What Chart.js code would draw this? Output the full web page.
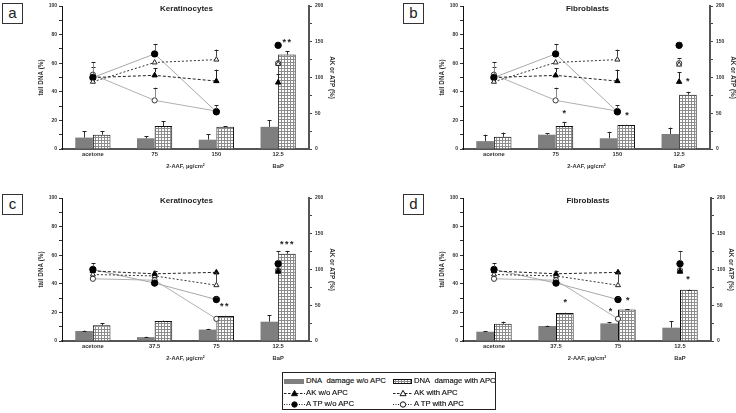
<!DOCTYPE html>
<html><head><meta charset="utf-8">
<script src="https://cdn.jsdelivr.net/npm/chart.js@4.4.1/dist/chart.umd.min.js"></script>
<style>
html,body{margin:0;padding:0;background:#fff;}
body{width:736px;height:413px;overflow:hidden;position:relative;font-family:"Liberation Sans",Arial,sans-serif;}
canvas.pc{position:absolute;}
.lab{position:absolute;width:19px;height:19px;border:1px solid #333;font-size:15px;line-height:18px;text-align:center;color:#222;}
#legend{position:absolute;left:282px;top:372px;width:212px;height:36px;border:1.5px solid #222;}
.li{position:absolute;height:10px;font:7.7px "Liberation Sans",Arial,sans-serif;color:#111;white-space:nowrap;line-height:10px;-webkit-text-stroke:0.15px #111;}
.li canvas{vertical-align:top;margin-right:1px;}
</style></head>
<body>
<canvas id="pa" class="pc" width="310" height="170" style="left:30px;top:0px"></canvas>
<canvas id="pb" class="pc" width="310" height="170" style="left:431px;top:0px"></canvas>
<canvas id="pcc" class="pc" width="310" height="170" style="left:30px;top:192px"></canvas>
<canvas id="pd" class="pc" width="308" height="170" style="left:431px;top:192px"></canvas>
<div class="lab" style="left:2px;top:3px">a</div>
<div class="lab" style="left:403px;top:3px">b</div>
<div class="lab" style="left:2px;top:194px">c</div>
<div class="lab" style="left:403px;top:194px">d</div>
<div id="legend">
  <div class="li" style="left:1px;top:3px"><canvas id="ic1" width="21" height="10"></canvas>DNA&nbsp; damage w/o APC</div>
  <div class="li" style="left:110px;top:3px"><canvas id="ic2" width="20" height="10"></canvas>DNA&nbsp; damage with APC</div>
  <div class="li" style="left:1px;top:15px"><canvas id="ic3" width="21" height="10"></canvas>AK w/o APC</div>
  <div class="li" style="left:110px;top:15px"><canvas id="ic4" width="20" height="10"></canvas>AK with APC</div>
  <div class="li" style="left:1px;top:26px"><canvas id="ic5" width="21" height="10"></canvas>A TP w/o APC</div>
  <div class="li" style="left:110px;top:26px"><canvas id="ic6" width="20" height="10"></canvas>A TP with APC</div>
</div>
<script>
// ---------- categories / labels ----------
const catsAB = ['acetone', '75', '150', ['12.5', 'BaP']];
const catsCD = ['acetone', '37.5', '75', ['12.5', 'BaP']];
const xAxisTitle = '2-AAF, µg/cm²';
const titleK = 'Keratinocytes';
const titleF = 'Fibroblasts';
const leftTicks = [0, 20, 40, 60, 80, 100];
const rightTicks = [0, 50, 100, 150, 200];

// ---------- panel a (Keratinocytes) ----------
const dnaWoA = [8, 7.5, 6.5, 15.5];
const dnaWoErrA = [4.5, 1.5, 4, 4.5];
const dnaWithA = [10, 16, 15.5, 66];
const dnaWithErrA = [2.5, 3.5, 0.3, 2.5];
const akWoA = [100, 103, 95, 93];
const akWoErrA = [0, 10, 16, 12];
const akWithA = [94, 121, 125, 119];
const akWithErrA = [0, 0, 14, 0];
const atpWoA = [100, 133, 52, 145];
const atpWoErrA = [14, 14, 9, 0];
const atpWithA = [104, 68, 53, 120];
const atpWithErrA = [17, 18, 0, 0];
const starsA = [[3.15, 76, '**']];

// ---------- panel b (Fibroblasts) ----------
const dnaWoB = [5.5, 10, 7.5, 10.5];
const dnaWoErrB = [4.5, 1, 4.5, 4.5];
const dnaWithB = [8.5, 16, 16.8, 38];
const dnaWithErrB = [3, 3, 0.2, 2];
const akWoB = [100, 103, 95, 94];
const akWoErrB = [0, 10, 16, 13];
const akWithB = [94, 121, 125, 118];
const akWithErrB = [0, 0, 14, 0];
const atpWoB = [100, 133, 52, 145];
const atpWoErrB = [14, 14, 9, 4];
const atpWithB = [104, 68, 53, 120];
const atpWithErrB = [17, 18, 0, 7];
const starsB = [[1.15, 26.5, '*'], [2.17, 25.1, '*'], [3.15, 48.8, '*']];

// ---------- panel c (Keratinocytes) ----------
const dnaWoC = [7, 2.7, 8, 13.5];
const dnaWoErrC = [0.3, 0.3, 0.5, 4.5];
const dnaWithC = [11, 14, 17.5, 61];
const dnaWithErrC = [1.5, 0.3, 0.2, 2];
const akWoC = [98, 94, 96, 97];
const akWoErrC = [0, 4, 0, 0];
const akWithC = [93, 91, 78, 99];
const akWithErrC = [0, 0, 18, 0];
const atpWoC = [100, 81, 58, 108];
const atpWoErrC = [9, 0, 4, 18];
const atpWithC = [87, 85, 31, 99];
const atpWithErrC = [0, 0, 0, 0];
const starsC = [[2.14, 25.8, '**'], [3.15, 69.2, '***']];

// ---------- panel d (Fibroblasts) ----------
const dnaWoD = [6.5, 10.5, 12.3, 9.3];
const dnaWoErrD = [0.5, 0.3, 0.7, 4.7];
const dnaWithD = [12, 19.5, 22, 35.8];
const dnaWithErrD = [1.5, 0.3, 0.1, 0.2];
const akWoD = [98, 94, 96, 97];
const akWoErrD = [0, 4, 0, 0];
const akWithD = [93, 91, 78, 98];
const akWithErrD = [0, 0, 18, 0];
const atpWoD = [100, 81, 58, 108];
const atpWoErrD = [9, 0, 4, 18];
const atpWithD = [87, 85, 31, 99];
const atpWithErrD = [0, 0, 0, 0];
const starsD = [[1.16, 28.6, '*'], [1.89, 22.4, '*'], [2.17, 30.3, '*'], [3.14, 45, '*']];

// ---------- styling helpers ----------
const FONT = '"Liberation Sans", Arial, sans-serif';
function makeHatch() {
  const c = document.createElement('canvas');
  c.width = 3; c.height = 3;
  const g = c.getContext('2d');
  g.fillStyle = '#fff'; g.fillRect(0, 0, 3, 3);
  g.fillStyle = '#8c8c8c'; g.fillRect(2, 0, 1, 3); g.fillRect(0, 2, 3, 1);
  return document.createElement('canvas').getContext('2d').createPattern(c, 'repeat');
}
const hatch = makeHatch();
const hideLast = ctx => ctx.p1DataIndex === 3 ? 'rgba(0,0,0,0)' : undefined;

const errPlugin = {
  id: 'errbars',
  afterDatasetsDraw(chart) {
    const ctx = chart.ctx;
    chart.data.datasets.forEach((ds, di) => {
      if (!ds.errors) return;
      const meta = chart.getDatasetMeta(di);
      const sc = chart.scales[ds.yAxisID];
      meta.data.forEach((el, i) => {
        const e = ds.errors[i];
        if (!e) return;
        const v = ds.data[i];
        const yt = sc.getPixelForValue(v + e);
        const y0 = ds.type === 'bar' ? el.y : el.y - 3;
        ctx.save();
        ctx.strokeStyle = ds.errColor || '#333';
        ctx.lineWidth = 1;
        ctx.beginPath();
        ctx.moveTo(Math.round(el.x) + 0.5, y0);
        ctx.lineTo(Math.round(el.x) + 0.5, yt);
        ctx.stroke();
        ctx.strokeStyle = '#222';
        ctx.beginPath();
        ctx.moveTo(Math.round(el.x) - 1.5, Math.round(yt) + 0.5);
        ctx.lineTo(Math.round(el.x) + 2.5, Math.round(yt) + 0.5);
        ctx.stroke();
        ctx.restore();
      });
    });
  }
};

const decoPlugin = {
  id: 'deco',
  afterDraw(chart, args, opts) {
    const ctx = chart.ctx;
    const a = chart.chartArea;
    ctx.save();
    ctx.font = 'bold 8px ' + FONT;
    ctx.fillStyle = '#222';
    ctx.textAlign = 'center';
    ctx.textBaseline = 'middle';
    ctx.fillText(opts.title, (a.left + a.right) / 2 + 1, a.top + 3);
    ctx.font = 'bold 9px ' + FONT;
    ctx.letterSpacing = '1.5px';
    ctx.textBaseline = 'alphabetic';
    const xs = chart.scales.x, ys = chart.scales.y;
    (opts.stars || []).forEach(s => {
      ctx.fillText(s[2], xs.getPixelForValue(s[0]), ys.getPixelForValue(s[1]) + 5);
    });
    ctx.restore();
  }
};

function makePanel(id, title, cats, bWo, bWoE, bWith, bWithE, akWo, akWoE, akWith, akWithE, atpWo, atpWoE, atpWith, atpWithE, stars, rightAxisAt) {
  const canvas = document.getElementById(id);
  const W = canvas.width;
  return new Chart(canvas, {
    data: {
      labels: cats,
      datasets: [
        { type: 'line', label: 'AK w/o APC', data: akWo, errors: akWoE, errColor: '#222', yAxisID: 'y2',
          borderColor: '#222', borderWidth: 1, borderDash: [3, 2], pointStyle: 'triangle', pointRadius: 3.1,
          pointBackgroundColor: '#000', pointBorderColor: '#000', pointBorderWidth: 1, segment: { borderColor: hideLast } },
        { type: 'line', label: 'AK with APC', data: akWith, errors: akWithE, errColor: '#444', yAxisID: 'y2',
          borderColor: '#333', borderWidth: 1, borderDash: [2, 2], pointStyle: 'triangle', pointRadius: 2.9,
          pointBackgroundColor: '#fff', pointBorderColor: '#222', pointBorderWidth: 1, segment: { borderColor: hideLast } },
        { type: 'line', label: 'A TP w/o APC', data: atpWo, errors: atpWoE, errColor: '#666', yAxisID: 'y2',
          borderColor: '#a8a8a8', borderWidth: 1, pointStyle: 'circle', pointRadius: 3.2,
          pointBackgroundColor: '#000', pointBorderColor: '#000', pointBorderWidth: 1, segment: { borderColor: hideLast } },
        { type: 'line', label: 'A TP with APC', data: atpWith, errors: atpWithE, errColor: '#888', yAxisID: 'y2',
          borderColor: '#b0b0b0', borderWidth: 1, pointStyle: 'circle', pointRadius: 2.6,
          pointBackgroundColor: '#fff', pointBorderColor: '#333', pointBorderWidth: 1, segment: { borderColor: hideLast } },
        { type: 'bar', label: 'DNA damage w/o APC', data: bWo, errors: bWoE, errColor: '#333', yAxisID: 'y',
          backgroundColor: '#7f7f7f', borderWidth: 0, categoryPercentage: 0.57, barPercentage: 1 },
        { type: 'bar', label: 'DNA damage with APC', data: bWith, errors: bWithE, errColor: '#333', yAxisID: 'y',
          backgroundColor: hatch, borderColor: '#111', borderWidth: 1, borderSkipped: 'bottom', categoryPercentage: 0.57, barPercentage: 1 }
      ]
    },
    options: {
      responsive: false, animation: false, devicePixelRatio: 1,
      layout: { padding: { top: 3, left: 0, right: 0, bottom: 0 } },
      plugins: { legend: { display: false }, tooltip: { enabled: false }, deco: { title: title, stars: stars } },
      scales: {
        x: {
          type: 'category', offset: true,
          grid: { display: false, drawTicks: false },
          border: { display: true, color: '#555', width: 2 },
          ticks: { color: '#333', padding: 0, maxRotation: 0, autoSkip: false,
                   font: { family: FONT, size: 5.8, weight: 'bold', lineHeight: 1.95 } },
          title: { display: true, text: xAxisTitle, color: '#333', padding: { top: 0, bottom: 0 },
                   font: { family: FONT, size: 5.8, weight: 'bold', lineHeight: 1.2 } },
          afterFit: s => { s.height = 21; }
        },
        y: {
          position: 'left', min: 0, max: 100,
          grid: { display: true, drawOnChartArea: false, drawTicks: true, tickLength: 3, color: '#333', lineWidth: 1 },
          border: { display: true, color: '#111', width: 1 },
          ticks: { stepSize: 10, padding: 2, color: '#333', font: { family: FONT, size: 5, weight: 'bold' },
                   callback: v => leftTicks.includes(v) ? String(v) : '' },
          title: { display: true, text: 'tail DNA (%)', color: '#333', padding: { top: 7.2, bottom: 0 },
                   font: { family: FONT, size: 6.3, weight: 'bold', lineHeight: 1.2 } },
          afterFit: s => { s.width = 32; }
        },
        y2: {
          position: 'right', min: 0, max: 200,
          grid: { display: true, drawOnChartArea: false, drawTicks: true, tickLength: 3, color: '#444', lineWidth: 1 },
          border: { display: true, color: '#555', width: 2 },
          ticks: { stepSize: 25, padding: 3, color: '#333', font: { family: FONT, size: 5, weight: 'bold' },
                   callback: v => rightTicks.includes(v) ? String(v) : '' },
          title: { display: true, text: 'AK or ATP (%)', color: '#333', padding: { top: 4.2, bottom: 0 },
                   font: { family: FONT, size: 6.3, weight: 'bold', lineHeight: 1.2 } },
          afterFit: s => { s.width = W - rightAxisAt; }
        }
      }
    },
    plugins: [errPlugin, decoPlugin]
  });
}

makePanel('pa', titleK, catsAB, dnaWoA, dnaWoErrA, dnaWithA, dnaWithErrA, akWoA, akWoErrA, akWithA, akWithErrA, atpWoA, atpWoErrA, atpWithA, atpWithErrA, starsA, 279);
makePanel('pb', titleF, catsAB, dnaWoB, dnaWoErrB, dnaWithB, dnaWithErrB, akWoB, akWoErrB, akWithB, akWithErrB, atpWoB, atpWoErrB, atpWithB, atpWithErrB, starsB, 279);
makePanel('pcc', titleK, catsCD, dnaWoC, dnaWoErrC, dnaWithC, dnaWithErrC, akWoC, akWoErrC, akWithC, akWithErrC, atpWoC, atpWoErrC, atpWithC, atpWithErrC, starsC, 279);
makePanel('pd', titleF, catsCD, dnaWoD, dnaWoErrD, dnaWithD, dnaWithErrD, akWoD, akWoErrD, akWithD, akWithErrD, atpWoD, atpWoErrD, atpWithD, atpWithErrD, starsD, 280);

// ---------- legend icons ----------
function icon(id, kind) {
  const g = document.getElementById(id).getContext('2d');
  const w = g.canvas.width;
  g.lineWidth = 1;
  if (kind === 'barWo') { g.fillStyle = '#7f7f7f'; g.fillRect(0, 3, w - 1, 5); return; }
  if (kind === 'barWith') { g.fillStyle = hatch; g.fillRect(0, 3, w - 1, 5); g.strokeStyle = '#111'; g.strokeRect(0.5, 3.5, w - 2, 4); return; }
  const dash = kind.startsWith('ak') ? [2.5, 1.5] : [1, 1.5];
  g.strokeStyle = '#222'; g.setLineDash(dash);
  g.beginPath(); g.moveTo(0, 5.5); g.lineTo(w, 5.5); g.stroke(); g.setLineDash([]);
  const cx = w / 2, cy = 5.5;
  g.beginPath();
  if (kind.startsWith('ak')) { g.moveTo(cx, cy - 3.2); g.lineTo(cx + 3, cy + 2.2); g.lineTo(cx - 3, cy + 2.2); g.closePath(); }
  else { g.arc(cx, cy, 2.7, 0, Math.PI * 2); }
  g.fillStyle = kind.endsWith('Wo') ? '#000' : '#fff';
  g.fill(); g.strokeStyle = '#111'; g.stroke();
}
icon('ic1', 'barWo'); icon('ic2', 'barWith'); icon('ic3', 'akWo'); icon('ic4', 'akWith'); icon('ic5', 'atpWo'); icon('ic6', 'atpWith');
</script>
</body></html>
